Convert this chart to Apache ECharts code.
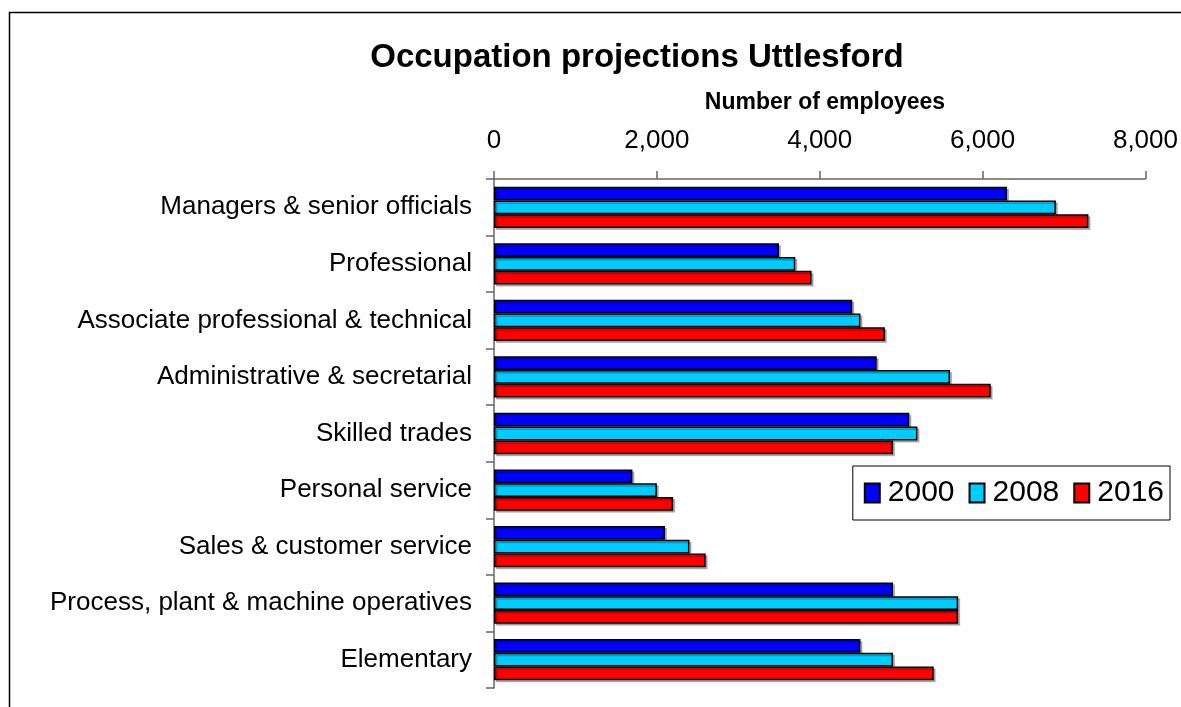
<!DOCTYPE html>
<html>
<head>
<meta charset="utf-8">
<script src="https://cdn.jsdelivr.net/npm/echarts@6/dist/echarts.min.js"></script>
<style>
    html, body { margin: 0; padding: 0; background: #fff; }
    #chart { width: 1181px; height: 707px; }
</style>
</head>
<body>
<div id="chart"></div>
<script>
// occupations, top to bottom as drawn
const categories = [
    'Managers & senior officials',
    'Professional',
    'Associate professional & technical',
    'Administrative & secretarial',
    'Skilled trades',
    'Personal service',
    'Sales & customer service',
    'Process, plant & machine operatives',
    'Elementary'
]
const years = ['2000', '2008', '2016']
const values2000 = [6300, 3500, 4400, 4700, 5100, 1700, 2100, 4900, 4500]
const values2008 = [6900, 3700, 4500, 5600, 5200, 2000, 2400, 5700, 4900]
const values2016 = [7300, 3900, 4800, 6100, 4900, 2200, 2600, 5700, 5400]
const colors = ['#0000ff', '#00ccff', '#ff0000']

const chart = echarts.init(document.getElementById('chart'))

const barStyle = (color) => ({
    color: color,
    borderColor: '#000',
    borderWidth: 1.5,
    shadowColor: 'rgba(0,0,0,0.25)',
    shadowOffsetX: 2,
    shadowOffsetY: 2
})

const option = {
    animation: false,
    textStyle: { fontFamily: 'Liberation Sans, Arial, sans-serif', color: '#000' },
    title: [
        {
            text: 'Occupation projections Uttlesford',
            left: 632,
            top: 36,
            textAlign: 'center',
            textStyle: { fontSize: 33, fontWeight: 'bold', color: '#000' }
        },
        {
            text: 'Number of employees',
            left: 820,
            top: 86,
            textAlign: 'center',
            textStyle: { fontSize: 23, fontWeight: 'bold', color: '#000' }
        }
    ],
    legend: {
        data: years,
        icon: 'rect',
        right: 11,
        top: 466,
        orient: 'horizontal',
        itemWidth: 15,
        itemHeight: 19,
        itemGap: 14,
        padding: [12, 6, 12, 11],
        borderColor: '#000',
        borderWidth: 1,
        backgroundColor: '#fff',
        textStyle: { fontSize: 30, color: '#000', padding: [0, 0, 0, 3] }
    },
    graphic: [
        {
            type: 'rect',
            shape: { x: 9.5, y: 12.5, width: 1300, height: 800 },
            style: { fill: 'none', stroke: '#000', lineWidth: 1.5 },
            silent: true,
            z: -1
        }
    ],
    grid: {
        left: 494,
        right: 35,
        top: 179,
        bottom: 19
    },
    xAxis: {
        type: 'value',
        position: 'top',
        min: 0,
        max: 8000,
        interval: 2000,
        axisLine: { show: true, lineStyle: { color: '#666', width: 1.5 } },
        axisTick: { show: true, length: 8, lineStyle: { color: '#666', width: 1.5 } },
        axisLabel: {
            fontSize: 26,
            color: '#000',
            margin: 25,
            formatter: (v) => v.toLocaleString('en-US')
        },
        splitLine: { show: false }
    },
    yAxis: {
        type: 'category',
        inverse: true,
        data: categories,
        axisLine: { show: true, lineStyle: { color: '#666', width: 1.5 } },
        axisTick: { show: true, length: 8, lineStyle: { color: '#666', width: 1.5 } },
        axisLabel: { fontSize: 26, color: '#000', margin: 22 }
    },
    series: [
        {
            name: years[0],
            type: 'bar',
            data: values2000,
            barGap: '0%',
            barCategoryGap: '27%',
            itemStyle: barStyle(colors[0])
        },
        {
            name: years[1],
            type: 'bar',
            data: values2008,
            barGap: '0%',
            barCategoryGap: '27%',
            itemStyle: barStyle(colors[1])
        },
        {
            name: years[2],
            type: 'bar',
            data: values2016,
            barGap: '0%',
            barCategoryGap: '27%',
            itemStyle: barStyle(colors[2])
        }
    ]
}

chart.setOption(option)
</script>
</body>
</html>
